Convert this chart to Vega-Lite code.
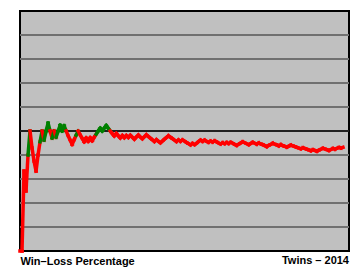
{
  "$schema": "https://vega.github.io/schema/vega-lite/v6.json",
  "width": 329,
  "height": 240,
  "autosize": {"type": "none"},
  "padding": {"left": 20, "top": 11, "right": 9, "bottom": 20},
  "background": "white",
  "config": {
    "view": {"fill": "#c0c0c0", "stroke": "black", "strokeWidth": 2},
    "font": "Liberation Sans"
  },
  "title": {
    "text": "Twins – 2014",
    "orient": "bottom",
    "anchor": "end",
    "frame": "group",
    "fontSize": 11,
    "fontWeight": "bold",
    "color": "black",
    "offset": -11
  },
  "data": {
    "values": [
      {"game":1,"pct":0.000},{"game":2,"pct":0.000},{"game":3,"pct":0.333},{"game":4,"pct":0.250},{"game":5,"pct":0.400},
      {"game":6,"pct":0.500},{"game":7,"pct":0.429},{"game":8,"pct":0.375},{"game":9,"pct":0.333},{"game":10,"pct":0.400},
      {"game":11,"pct":0.455},{"game":12,"pct":0.500},{"game":13,"pct":0.462},{"game":14,"pct":0.500},{"game":15,"pct":0.533},
      {"game":16,"pct":0.500},{"game":17,"pct":0.471},{"game":18,"pct":0.500},{"game":19,"pct":0.474},{"game":20,"pct":0.500},
      {"game":21,"pct":0.524},{"game":22,"pct":0.500},{"game":23,"pct":0.522},{"game":24,"pct":0.500},{"game":25,"pct":0.480},
      {"game":26,"pct":0.462},{"game":27,"pct":0.444},{"game":28,"pct":0.464},{"game":29,"pct":0.483},{"game":30,"pct":0.500},
      {"game":31,"pct":0.484},{"game":32,"pct":0.469},{"game":33,"pct":0.455},{"game":34,"pct":0.471},{"game":35,"pct":0.457},
      {"game":36,"pct":0.472},{"game":37,"pct":0.459},{"game":38,"pct":0.474},{"game":39,"pct":0.487},{"game":40,"pct":0.500},
      {"game":41,"pct":0.512},{"game":42,"pct":0.500},{"game":43,"pct":0.512},{"game":44,"pct":0.523},{"game":45,"pct":0.511},
      {"game":46,"pct":0.500},{"game":47,"pct":0.489},{"game":48,"pct":0.479},{"game":49,"pct":0.490},{"game":50,"pct":0.480},
      {"game":51,"pct":0.471},{"game":52,"pct":0.481},{"game":53,"pct":0.472},{"game":54,"pct":0.481},{"game":55,"pct":0.473},
      {"game":56,"pct":0.482},{"game":57,"pct":0.474},{"game":58,"pct":0.466},{"game":59,"pct":0.475},{"game":60,"pct":0.483},
      {"game":61,"pct":0.475},{"game":62,"pct":0.468},{"game":63,"pct":0.476},{"game":64,"pct":0.484},{"game":65,"pct":0.477},
      {"game":66,"pct":0.470},{"game":67,"pct":0.463},{"game":68,"pct":0.456},{"game":69,"pct":0.464},{"game":70,"pct":0.457},
      {"game":71,"pct":0.451},{"game":72,"pct":0.458},{"game":73,"pct":0.466},{"game":74,"pct":0.473},{"game":75,"pct":0.480},
      {"game":76,"pct":0.474},{"game":77,"pct":0.468},{"game":78,"pct":0.462},{"game":79,"pct":0.456},{"game":80,"pct":0.463},
      {"game":81,"pct":0.457},{"game":82,"pct":0.463},{"game":83,"pct":0.458},{"game":84,"pct":0.452},{"game":85,"pct":0.447},
      {"game":86,"pct":0.442},{"game":87,"pct":0.448},{"game":88,"pct":0.443},{"game":89,"pct":0.449},{"game":90,"pct":0.456},
      {"game":91,"pct":0.462},{"game":92,"pct":0.457},{"game":93,"pct":0.462},{"game":94,"pct":0.457},{"game":95,"pct":0.453},
      {"game":96,"pct":0.458},{"game":97,"pct":0.454},{"game":98,"pct":0.459},{"game":99,"pct":0.455},{"game":100,"pct":0.450},
      {"game":101,"pct":0.446},{"game":102,"pct":0.451},{"game":103,"pct":0.447},{"game":104,"pct":0.452},{"game":105,"pct":0.448},
      {"game":106,"pct":0.453},{"game":107,"pct":0.449},{"game":108,"pct":0.444},{"game":109,"pct":0.440},{"game":110,"pct":0.445},
      {"game":111,"pct":0.450},{"game":112,"pct":0.455},{"game":113,"pct":0.451},{"game":114,"pct":0.447},{"game":115,"pct":0.443},
      {"game":116,"pct":0.448},{"game":117,"pct":0.453},{"game":118,"pct":0.449},{"game":119,"pct":0.445},{"game":120,"pct":0.450},
      {"game":121,"pct":0.446},{"game":122,"pct":0.443},{"game":123,"pct":0.439},{"game":124,"pct":0.435},{"game":125,"pct":0.440},
      {"game":126,"pct":0.444},{"game":127,"pct":0.449},{"game":128,"pct":0.445},{"game":129,"pct":0.442},{"game":130,"pct":0.438},
      {"game":131,"pct":0.443},{"game":132,"pct":0.439},{"game":133,"pct":0.436},{"game":134,"pct":0.433},{"game":135,"pct":0.437},
      {"game":136,"pct":0.441},{"game":137,"pct":0.438},{"game":138,"pct":0.435},{"game":139,"pct":0.432},{"game":140,"pct":0.429},
      {"game":141,"pct":0.426},{"game":142,"pct":0.430},{"game":143,"pct":0.427},{"game":144,"pct":0.424},{"game":145,"pct":0.421},
      {"game":146,"pct":0.418},{"game":147,"pct":0.422},{"game":148,"pct":0.419},{"game":149,"pct":0.416},{"game":150,"pct":0.420},
      {"game":151,"pct":0.424},{"game":152,"pct":0.428},{"game":153,"pct":0.425},{"game":154,"pct":0.422},{"game":155,"pct":0.419},
      {"game":156,"pct":0.423},{"game":157,"pct":0.427},{"game":158,"pct":0.424},{"game":159,"pct":0.428},{"game":160,"pct":0.431},
      {"game":161,"pct":0.429},{"game":162,"pct":0.432}
    ]
  },
  "layer": [
    {
      "data": {"values": [{"level":0.1},{"level":0.2},{"level":0.3},{"level":0.4},{"level":0.6},{"level":0.7},{"level":0.8},{"level":0.9}]},
      "mark": {"type": "rule", "color": "#707070", "strokeWidth": 2},
      "encoding": {
        "y": {"field": "level", "type": "quantitative", "scale": {"domain": [0, 1], "nice": false}, "axis": null}
      }
    },
    {
      "data": {"values": [{"level":0.5}]},
      "mark": {"type": "rule", "color": "#202020", "strokeWidth": 2},
      "encoding": {
        "y": {"field": "level", "type": "quantitative", "axis": null}
      }
    },
    {
      "transform": [
        {"window": [{"op": "lag", "field": "pct", "as": "prev"}, {"op": "lag", "field": "game", "as": "prevGame"}], "sort": [{"field": "game"}]},
        {"filter": "isValid(datum.prev)"},
        {"calculate": "datum.pct >= 0.5 || datum.prev > 0.5 ? 'above' : 'below'", "as": "side"}
      ],
      "mark": {"type": "rule", "strokeWidth": 3.5, "strokeCap": "square"},
      "encoding": {
        "x": {
          "field": "prevGame", "type": "quantitative",
          "scale": {"domain": [1, 165], "nice": false, "zero": false},
          "axis": {
            "title": "Win–Loss Percentage", "titleAnchor": "start", "titleAlign": "left",
            "titleFontSize": 11, "titleFontWeight": "bold", "titleColor": "black",
            "titleFont": "Liberation Sans", "titlePadding": 4, "titleBaseline": "top",
            "labels": false, "ticks": false, "domain": false, "grid": false
          }
        },
        "x2": {"field": "game"},
        "y": {"field": "prev", "type": "quantitative", "axis": null},
        "y2": {"field": "pct"},
        "color": {
          "field": "side", "type": "nominal",
          "scale": {"domain": ["above", "below"], "range": ["#008000", "#ff0000"]},
          "legend": null
        }
      }
    }
  ]
}
